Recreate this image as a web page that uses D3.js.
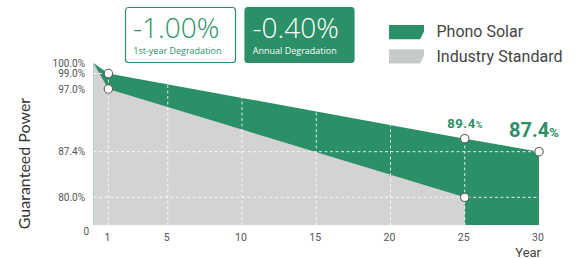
<!DOCTYPE html>
<html><head><meta charset="utf-8">
<script src="https://cdn.jsdelivr.net/npm/d3@7"></script>
<style>html,body{margin:0;padding:0;background:#fff;}svg{display:block;}</style>
</head><body>
<script>
// ---- data ----
const phonoYears = [0, 1, 25, 30];
const phonoValues = [100, 99, 89.4, 87.4];
const industryYears = [0, 1, 25];
const industryValues = [100, 97, 80];
const xTickYears = [1, 5, 10, 15, 20, 25, 30];
const yTickValues = [100, 99, 97, 87.4, 80, 0];
const yTickLabels = ["100.0%", "99.0%", "97.0%", "87.4%", "80.0%", "0"];
const gridYears = [1, 5, 10, 15, 20, 25];
const gridValues = [99, 87.4, 80];
const seriesNames = ["Phono Solar", "Industry Standard"];
const boxValues = ["-1.00%", "-0.40%"];
const boxCaptions = ["1st-year Degradation", "Annual Degradation"];
const pointLabels = [{year: 25, value: 89.4, num: "89.4", big: false}, {year: 30, value: 87.4, num: "87.4", big: true}];

const GREEN = "#2b8f67", GREY_AREA = "#d3d3d3", GREY_SW = "#c6cacb";

const W = 581, H = 259;
const svg = d3.select("body").append("svg").attr("width", W).attr("height", H);

const x = d3.scaleLinear().domain([0, 30]).range([93.5, 539]);
// broken (piecewise) value axis as in the original graphic
const y = d3.scaleLinear().domain([0, 80, 87.4, 97, 99, 100]).range([225, 197.3, 151.7, 89, 73.5, 63]);

const phono = phonoYears.map((d, i) => ({year: d, value: phonoValues[i]}));
const industry = industryYears.map((d, i) => ({year: d, value: industryValues[i]}));

const area = d3.area().x(d => x(d.year)).y0(y(0)).y1(d => y(d.value));

svg.append("clipPath").attr("id", "clipP").append("path").attr("d", area(phono));

svg.append("path").attr("d", area(phono)).attr("fill", GREEN);
svg.append("path").attr("d", area(industry)).attr("fill", GREY_AREA);

// left axis line
svg.append("line").attr("x1", x(0)).attr("x2", x(0)).attr("y1", y(100)).attr("y2", y(0))
  .attr("stroke", "#a9d6c5").attr("stroke-width", 1);

// grid
const g = svg.append("g").attr("clip-path", "url(#clipP)");
g.selectAll(".vg").data(gridYears).join("line")
  .attr("x1", d => x(d)).attr("x2", d => x(d)).attr("y1", y(100)).attr("y2", y(0))
  .attr("stroke", "#fff").attr("stroke-width", 1).attr("stroke-dasharray", "3,2.5").attr("opacity", 0.85);
g.selectAll(".hg").data(gridValues).join("line")
  .attr("x1", x(0)).attr("x2", x(30)).attr("y1", d => y(d)).attr("y2", d => y(d))
  .attr("stroke", "#fff").attr("stroke-width", 1).attr("stroke-dasharray", "3,2.5").attr("opacity", 0.85);

// y tick labels
svg.selectAll(".yl").data(yTickValues).join("text")
  .attr("x", d => d === 0 ? 89 : 85)
  .attr("y", d => d === 0 ? y(d) + 6 : y(d))
  .attr("dy", "0.35em").attr("text-anchor", "end")
  .attr("font-family", "Roboto").attr("font-size", 10).attr("fill", "#555")
  .text((d, i) => yTickLabels[i]);

// x tick labels
svg.selectAll(".xl").data(xTickYears).join("text")
  .attr("x", d => x(d) - 1).attr("y", 241).attr("text-anchor", "middle")
  .attr("font-family", "Roboto").attr("font-size", 10.5).attr("fill", "#555")
  .text(d => d);

svg.append("text").attr("x", 541).attr("y", 257.3).attr("text-anchor", "end")
  .attr("font-family", "Roboto").attr("font-size", 13).attr("fill", "#444").text("Year");

svg.append("text").attr("transform", "translate(30,163.5) rotate(-90)").attr("text-anchor", "middle")
  .attr("font-family", "Lato").attr("font-size", 16).attr("fill", "#333").text("Guaranteed Power");

// points
const pts = [phono[1], phono[2], phono[3], industry[1], industry[2]];
svg.selectAll(".pt").data(pts).join("circle")
  .attr("cx", d => x(d.year)).attr("cy", d => y(d.value)).attr("r", 4.2)
  .attr("fill", "#fff").attr("stroke", "#5f5f5f").attr("stroke-width", 1.1);

// point labels
pointLabels.forEach(p => {
  const t = svg.append("text").attr("x", x(p.year) - (p.big ? 5 : 0)).attr("y", y(p.value) - (p.big ? 14.5 : 10.5))
    .attr("text-anchor", "middle").attr("font-family", "Roboto").attr("font-weight", "bold").attr("fill", GREEN);
  t.append("tspan").attr("font-size", p.big ? 20 : 13).attr("letter-spacing", p.big ? 0 : 0.6).text(p.num);
  t.append("tspan").attr("font-size", p.big ? 13 : 9).text("%");
});

// boxes
const boxes = [{x: 125.5, w: 110, filled: false}, {x: 245, w: 109, filled: true}];
boxes.forEach((b, i) => {
  svg.append("rect").attr("x", b.x).attr("y", 7.5).attr("width", b.w).attr("height", 55).attr("rx", 3)
    .attr("fill", b.filled ? GREEN : "#fff").attr("stroke", GREEN).attr("stroke-width", 1.2);
  const c = b.filled ? "#fff" : GREEN;
  svg.append("text").attr("x", b.x + 7.5).attr("y", 38).attr("font-family", "Open Sans")
    .attr("font-size", 28).attr("font-weight", 300).attr("fill", c).text(boxValues[i]);
  svg.append("text").attr("x", b.x + 7.8).attr("y", 54.3).attr("font-family", "Open Sans")
    .attr("font-size", 9).attr("fill", c).text(boxCaptions[i]);
});

// legend
const legColors = [GREEN, GREY_SW];
seriesNames.forEach((name, i) => {
  const ty = 25 + i * 24.2;
  const sw = d3.path();
  sw.moveTo(389, ty); sw.lineTo(424, ty); sw.lineTo(424, ty + 6.5); sw.lineTo(420, ty + 14.3); sw.lineTo(389, ty + 14.3); sw.closePath();
  svg.append("path").attr("d", sw.toString()).attr("fill", legColors[i]);
  svg.append("text").attr("x", 436.5).attr("y", ty + 12.3).attr("font-family", "Roboto").attr("font-size", 16)
    .attr("fill", "#444").text(name);
});
</script>
</body></html>
